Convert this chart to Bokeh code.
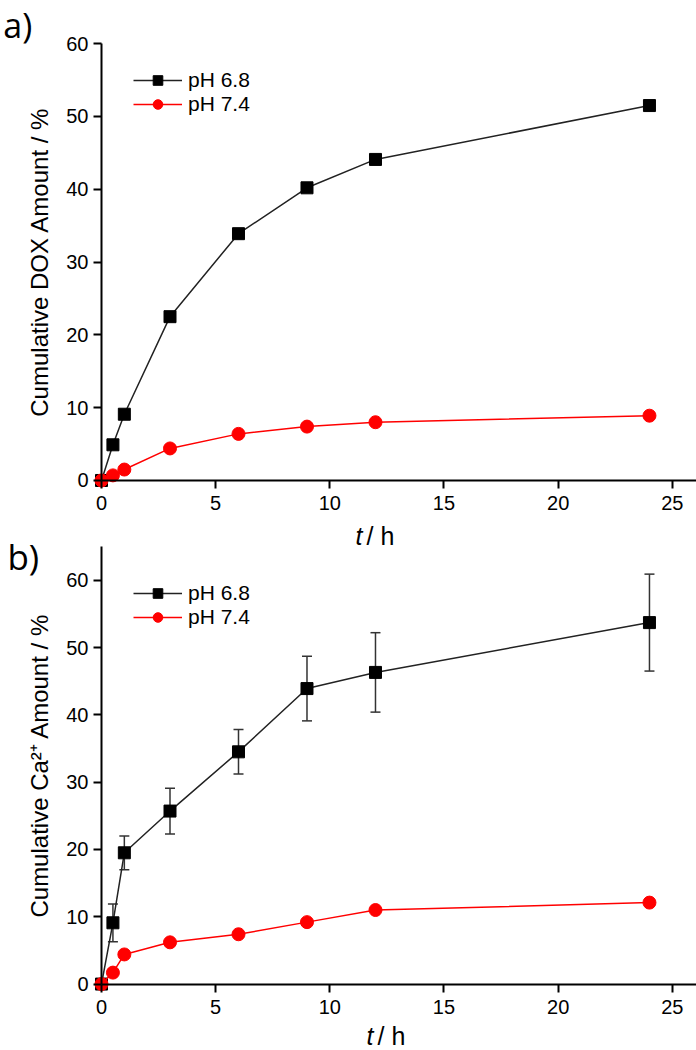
from bokeh.plotting import figure
from bokeh.models import (ColumnDataSource, Whisker, TeeHead, Label, Legend,
                          LegendItem, FixedTicker, LinearAxis, Range1d)
from bokeh.embed import file_html
from bokeh.resources import INLINE

# ---------------- data ----------------
t_hours = [0, 0.5, 1, 3, 6, 9, 12, 24]
dox_ph68 = [0, 4.9, 9.1, 22.5, 33.9, 40.2, 44.1, 51.5]
dox_ph74 = [0, 0.7, 1.5, 4.4, 6.4, 7.4, 8.0, 8.9]
ca_ph68 = [0, 9.1, 19.5, 25.7, 34.5, 43.9, 46.3, 53.7]
ca_ph68_err = [0, 2.8, 2.5, 3.4, 3.3, 4.8, 5.9, 7.2]
ca_ph74 = [0, 1.7, 4.4, 6.2, 7.4, 9.2, 11.0, 12.1]
x_ticks = [0, 5, 10, 15, 20, 25]
y_ticks = [0, 10, 20, 30, 40, 50, 60]
series_names = ["pH 6.8", "pH 7.4"]
ylabel_a = "Cumulative DOX Amount / %"
ylabel_b = "Cumulative Ca²⁺ Amount / %"

FONT = "Liberation Sans"
X_END = 26.06

# One canvas holds both panels: panel a uses the default y range,
# panel b the extra y range "b"; both share the time axis scale.
p = figure(width=696, height=1050, output_backend="svg", toolbar_location=None,
           x_range=Range1d(-4.424, X_END), y_range=Range1d(-78.30, 65.93),
           min_border=0, min_border_left=0, min_border_right=0,
           min_border_top=0, min_border_bottom=0)
p.extra_y_ranges = {"b": Range1d(-9.87, 146.12)}
p.outline_line_color = None
p.grid.visible = False
p.background_fill_color = "white"
p.border_fill_color = "white"

xa = p.xaxis[0]
ya = p.yaxis[0]
xb = LinearAxis(y_range_name="b")
yb = LinearAxis(y_range_name="b")
p.add_layout(xb, "below")
p.add_layout(yb, "left")

for ax in (xa, ya, xb, yb):
    ax.fixed_location = 0
    ax.axis_line_width = 2
    ax.axis_line_color = "black"
    ax.major_tick_line_width = 2
    ax.major_tick_line_color = "black"
    ax.major_tick_out = 8
    ax.major_tick_in = 0
    ax.minor_tick_line_color = None
    ax.major_label_text_font = FONT
    ax.major_label_text_font_size = "20px"
    ax.major_label_text_color = "black"
    ax.axis_label_text_font = FONT
    ax.axis_label_text_font_size = "24px"
    ax.axis_label_text_font_style = "normal"
    ax.axis_label_text_color = "black"

for ax in (xa, xb):
    ax.ticker = FixedTicker(ticks=x_ticks)
    ax.bounds = (0, X_END)
    ax.major_label_standoff = 8
for ax, top, lab in ((ya, 60, ylabel_a), (yb, 65, ylabel_b)):
    ax.ticker = FixedTicker(ticks=y_ticks)
    ax.bounds = (0, top)
    ax.major_label_standoff = 5
    ax.axis_label = lab
    ax.axis_label_standoff = 10


def add_series(y68, y74, err68, rname, legend_vy):
    src = ColumnDataSource(dict(t=t_hours, a=y68, b=y74))
    if err68 is not None:
        up = [v + e for v, e in zip(y68, err68)]
        lo = [v - e for v, e in zip(y68, err68)]
        esrc = ColumnDataSource(dict(t=t_hours[1:], up=up[1:], lo=lo[1:]))
        w = Whisker(base="t", upper="up", lower="lo", source=esrc,
                    y_range_name=rname,
                    line_color="#333333", line_width=1.5,
                    upper_head=TeeHead(size=10, line_color="#333333", line_width=1.5),
                    lower_head=TeeHead(size=10, line_color="#333333", line_width=1.5))
        p.add_layout(w)
    l1 = p.line("t", "a", source=src, line_color="#222222", line_width=1.5,
                y_range_name=rname)
    m1 = p.scatter("t", "a", source=src, marker="square", size=12,
                   fill_color="black", line_color="black", y_range_name=rname)
    l2 = p.line("t", "b", source=src, line_color="red", line_width=1.5,
                y_range_name=rname)
    m2 = p.scatter("t", "b", source=src, marker="circle", size=13,
                   fill_color="red", line_color="red", y_range_name=rname)
    legend = Legend(items=[LegendItem(label=series_names[0], renderers=[l1, m1]),
                           LegendItem(label=series_names[1], renderers=[l2, m2])],
                    location=(133, legend_vy), padding=0, margin=0, spacing=0,
                    glyph_width=49, glyph_height=24, label_height=24,
                    label_standoff=6, label_text_font=FONT,
                    label_text_font_size="21px", label_text_color="black",
                    background_fill_alpha=0, border_line_alpha=0)
    p.add_layout(legend)


add_series(dox_ph68, dox_ph74, None, "default", 934)
add_series(ca_ph68, ca_ph74, ca_ph68_err, "b", 421)

# panel tags
p.add_layout(Label(x=-4.30, y=62.5, text="a)", text_font="Open Sans",
                   text_font_size="34px", text_align="left",
                   text_baseline="middle", text_color="black"))
p.add_layout(Label(x=-4.12, y=63.46, y_range_name="b", text="b)",
                   text_font="Open Sans", text_font_size="35px",
                   text_align="left", text_baseline="middle",
                   text_color="black"))

# time axis titles (italic t)
for xt, xh, yy, rname in ((11.43, 11.61, -7.69, "default"),
                          (11.91, 12.09, -7.75, "b")):
    p.add_layout(Label(x=xt, y=yy, y_range_name=rname, text="t", text_font=FONT,
                       text_font_style="italic", text_font_size="25px",
                       text_align="right", text_baseline="middle",
                       text_color="black"))
    p.add_layout(Label(x=xh, y=yy, y_range_name=rname, text="/ h", text_font=FONT,
                       text_font_size="25px", text_align="left",
                       text_baseline="middle", text_color="black"))

open("out.html", "w").write(file_html(p, INLINE))
